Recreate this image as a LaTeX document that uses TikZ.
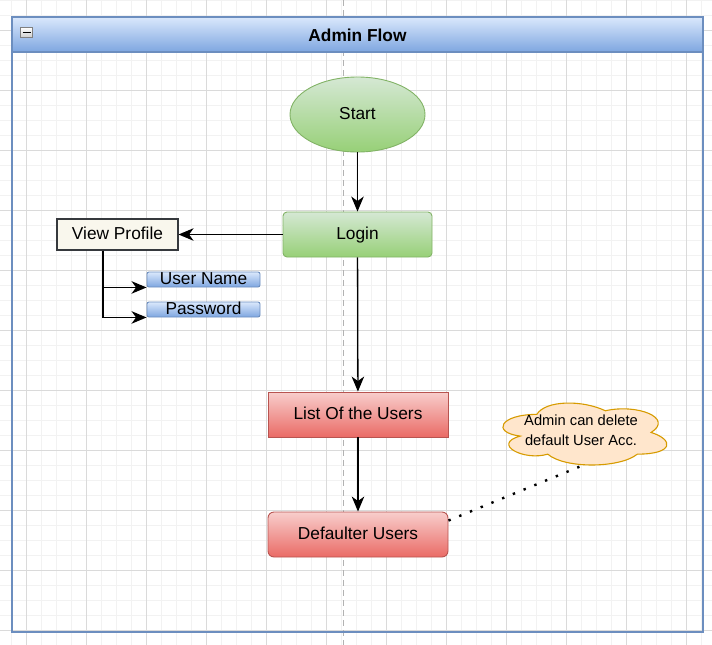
\documentclass[tikz,border=0pt]{standalone}
\usepackage{fontspec}
\setmainfont{Liberation Sans}
\usetikzlibrary{shapes.geometric,arrows.meta}
\definecolor{gTop}{HTML}{D5E8D4}
\definecolor{gBot}{HTML}{97D077}
\definecolor{gLine}{HTML}{82B366}
\definecolor{rTop}{HTML}{F8CECC}
\definecolor{rBot}{HTML}{EA6B66}
\definecolor{rLine}{HTML}{B85450}
\definecolor{bTop}{HTML}{DAE8FC}
\definecolor{bBot}{HTML}{7EA6E0}
\definecolor{bLine}{HTML}{6C8EBF}
\definecolor{oFill}{HTML}{FFE6CC}
\definecolor{oLine}{HTML}{D79B00}
\definecolor{vpFill}{HTML}{F9F7ED}
\definecolor{vpLine}{HTML}{36393D}
\definecolor{gridMinor}{HTML}{F2F2F2}
\definecolor{gridMajor}{HTML}{DADADA}
\tikzset{
  lbl/.style={font=\fontsize{17.3}{20}\selectfont, text=black, text height=12.5pt, text depth=3.5pt},
  greenbox/.style={lbl, draw=gLine, top color=gTop, bottom color=gBot, line width=0.9pt},
  redbox/.style={lbl, draw=rLine, top color=rTop, bottom color=rBot, line width=0.9pt, rectangle, minimum width=180, minimum height=45},
  bluetag/.style={lbl, draw=bLine, top color=bTop, bottom color=bBot, line width=0.9pt, rectangle, rounded corners=2pt, minimum width=113, inner sep=0pt, text height=12.5pt, text depth=2.5pt},
  conn/.style={line width=1.3pt, -{Stealth[length=15pt,width=12.5pt,inset=4.5pt]}},
}
\begin{document}
\begin{tikzpicture}[x=1pt,y=-1pt]
\useasboundingbox (0,0) rectangle (712,645);
\fill[white] (0,0) rectangle (712,645);
% grid
\foreach \i in {0,...,47} {\draw[gridMinor, line width=0.6pt] ({11.4+15*\i},0) -- ({11.4+15*\i},645);}
\foreach \i in {0,...,43} {\draw[gridMinor, line width=0.6pt] (0,{15*\i}) -- (712,{15*\i});}
\foreach \i in {0,...,11} {\draw[gridMajor, line width=0.8pt] ({26.4+60*\i},0) -- ({26.4+60*\i},645);}
\foreach \i in {0,...,10} {\draw[gridMajor, line width=0.8pt] (0,{30+60*\i}) -- (712,{30+60*\i});}
\draw[gray!60, line width=0.8pt, dash pattern=on 6pt off 4pt] (343,0) -- (343,645);
% container
\shade[top color=bTop, bottom color=bBot] (12,17) rectangle (703,52);
\draw[bLine, line width=1.2pt] (12,17) rectangle (703,632);
\draw[bLine, line width=1.2pt] (12,52) -- (703,52);
\node[font=\fontsize{17.3}{20}\selectfont\bfseries] (title) at (357.5,35) {Admin Flow};
\draw[gray, line width=0.8pt, top color=white, bottom color=gray!40] (20.5,27.5) rectangle (32.5,37.5);
\draw[black, line width=1.6pt] (22.5,32.5) -- (30.5,32.5);
% nodes
\node[greenbox, ellipse, minimum width=135, minimum height=75, inner sep=0pt] (start) at (357.5,114.5) {Start};
\node[greenbox, rectangle, rounded corners=4pt, minimum width=149, minimum height=45] (login) at (357.5,234.5) {Login};
\node[lbl, draw=vpLine, fill=vpFill, line width=1.1pt, rectangle, minimum width=121, minimum height=31, inner sep=0pt] (vp) at (117.5,234.5) {View Profile};
\node[bluetag] (un) at (203.5,279.5) {User Name};
\node[bluetag] (pw) at (203.5,309.5) {Password};
\node[redbox] (list) at (358,414.5) {List Of the Users};
\node[redbox, rounded corners=6pt] (def) at (358,534.5) {Defaulter Users};
% cloud (draw.io cloud outline)
\begin{scope}[shift={(491,396.3)}, x=183pt, y=-72.3pt]
\draw[draw=oLine, fill=oFill, line width=1.1pt]
  (0.25,0.25) .. controls (0.05,0.25) and (0,0.5) .. (0.16,0.55)
  .. controls (0,0.66) and (0.18,0.9) .. (0.31,0.8)
  .. controls (0.4,1) and (0.7,1) .. (0.8,0.8)
  .. controls (1,0.8) and (1,0.6) .. (0.875,0.5)
  .. controls (1,0.3) and (0.8,0.1) .. (0.625,0.2)
  .. controls (0.5,0.05) and (0.3,0.05) .. (0.25,0.25) -- cycle;
\coordinate (cloudbot) at (0.497,0.96);
\end{scope}
\node[align=center, font=\fontsize{14.7}{20}\selectfont, inner sep=0pt] (cloudtxt) at (581,430.5) {Admin can delete\\default User Acc.};
% connectors
\draw[conn] (start) -- (login);
\draw[conn] (login) -- (vp);
\draw[conn] ([xshift=-14.5pt]vp.south) |- (un.south west);
\draw[conn] ([xshift=-14.5pt]vp.south) |- (pw.south west);
\draw[conn] (login) -- (list);
\draw[conn] (list) -- (def);
\draw[line width=2.4pt, dash pattern=on 2.4pt off 9.2pt] ([yshift=-9pt]def.north east) -- (cloudbot);
\end{tikzpicture}
\end{document}
